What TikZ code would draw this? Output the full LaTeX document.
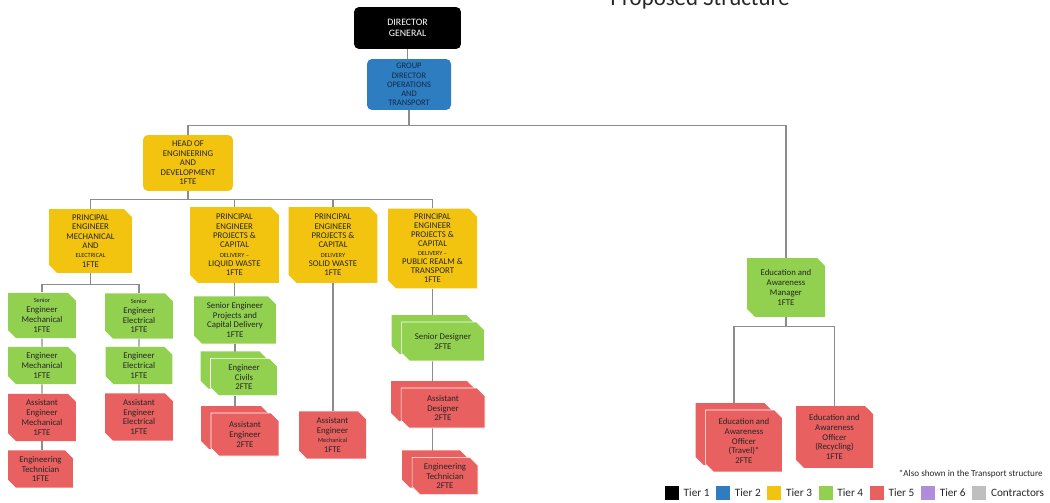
\documentclass[tikz,border=0pt]{standalone}
\usepackage{fontspec}
\setmainfont{Carlito}
\usetikzlibrary{shapes.misc, positioning, shadows, backgrounds}
\definecolor{tierone}{RGB}{0,0,0}
\definecolor{tiertwo}{RGB}{45,125,192}
\definecolor{tierthree}{RGB}{242,196,16}
\definecolor{tierfour}{RGB}{146,208,80}
\definecolor{tierfive}{RGB}{232,96,95}
\definecolor{tiersix}{RGB}{177,140,219}
\definecolor{contractor}{RGB}{191,191,191}
\definecolor{linegrey}{RGB}{140,140,140}
\definecolor{boxtext}{RGB}{38,38,38}
\newcommand{\squash}[1]{{\fontsize{3.6}{4.4}\selectfont #1}}
\tikzstyle{topbox} = [rectangle, rounded corners=1mm, align=center, inner sep=1pt, font=\fontsize{5}{5.4}\selectfont]
\tikzstyle{post} = [chamfered rectangle, chamfered rectangle corners={north east, south west}, chamfered rectangle xsep=0.8mm, chamfered rectangle ysep=0.8mm, align=center, inner sep=1pt, text=boxtext, font=\fontsize{5}{5.6}\selectfont]
\tikzstyle{principal} = [post, fill=tierthree, font=\fontsize{5}{5.3}\selectfont]
\tikzstyle{senior} = [post, fill=tierfour]
\tikzstyle{junior} = [post, fill=tierfive]
\tikzstyle{seniorstack} = [senior, draw=white, line width=0.3pt, general shadow={fill=tierfour, shadow xshift=-2mm, shadow yshift=1.4mm}]
\tikzstyle{juniorstack} = [junior, draw=white, line width=0.3pt, general shadow={fill=tierfive, shadow xshift=-2mm, shadow yshift=1.4mm}]
\tikzstyle{line} = [draw=linegrey, line width=0.75pt]
\tikzstyle{legsq} = [rectangle, minimum size=2.8mm, inner sep=0pt]
\tikzstyle{legtext} = [inner sep=0pt, font=\fontsize{6.4}{7}\selectfont, text=boxtext]

\begin{document}
\begin{tikzpicture}[x=0.02cm, y=-0.02cm]
    \useasboundingbox (0,0) rectangle (1050,503);

    \node (title) [anchor=base, font=\fontsize{13}{15}\selectfont, text=black!85] at (700,6) {Proposed Structure};

    \node (dg) [topbox, fill=tierone, text=white, minimum width=21.4mm, minimum height=8.4mm, font=\fontsize{5.6}{6.4}\selectfont] at (407.5,28) {DIRECTOR\\GENERAL};
    \node (gdot) [topbox, fill=tiertwo, text={rgb,255:red,25;green,40;blue,70}, minimum width=16.8mm, minimum height=10.2mm, font=\fontsize{4.8}{5.2}\selectfont] at (409,84.5) {GROUP\\DIRECTOR\\OPERATIONS\\AND\\TRANSPORT};
    \node (head) [topbox, fill=tierthree, text=boxtext, minimum width=18mm, minimum height=11.2mm] at (188,163) {HEAD OF\\ENGINEERING\\AND\\DEVELOPMENT\\1FTE};

    \node (pemech) [principal, minimum width=16.6mm, minimum height=12.4mm] at (90.5,241) {PRINCIPAL\\ENGINEER\\MECHANICAL\\AND\\\squash{ELECTRICAL}\\1FTE};
    \node (peliquid) [principal, minimum width=17.8mm, minimum height=15.2mm] at (234.5,245) {PRINCIPAL\\ENGINEER\\PROJECTS \&\\CAPITAL\\\squash{DELIVERY --}\\LIQUID WASTE\\1FTE};
    \node (pesolid) [principal, minimum width=17.8mm, minimum height=15.2mm] at (333,245) {PRINCIPAL\\ENGINEER\\PROJECTS \&\\CAPITAL\\\squash{DELIVERY}\\SOLID WASTE\\1FTE};
    \node (pepublic) [principal, minimum width=17.8mm, minimum height=15.4mm, font=\fontsize{5}{5.1}\selectfont] at (432.5,248.5) {PRINCIPAL\\ENGINEER\\PROJECTS \&\\CAPITAL\\\squash{DELIVERY --}\\PUBLIC REALM \&\\TRANSPORT\\1FTE};

    \node (sem) [senior, minimum width=13.6mm, minimum height=8.6mm] at (42,315.5) {\squash{Senior}\\Engineer\\Mechanical\\1FTE};
    \node (see) [senior, minimum width=13.6mm, minimum height=8.4mm] at (139,316) {\squash{Senior}\\Engineer\\Electrical\\1FTE};
    \node (em) [senior, minimum width=13.6mm, minimum height=6.6mm] at (42,365.5) {Engineer\\Mechanical\\1FTE};
    \node (ee) [senior, minimum width=13.4mm, minimum height=6.6mm] at (139,365.5) {Engineer\\Electrical\\1FTE};
    \node (aem) [junior, minimum width=13.6mm, minimum height=8.6mm] at (42,417.5) {Assistant\\Engineer\\Mechanical\\1FTE};
    \node (aee) [junior, minimum width=13.6mm, minimum height=8.8mm] at (139,417) {Assistant\\Engineer\\Electrical\\1FTE};
    \node (techmech) [junior, minimum width=13mm, minimum height=6mm] at (40.5,469) {Engineering\\Technician\\1FTE};

    \node (sepcd) [senior, minimum width=16.4mm, minimum height=8mm] at (235,320) {Senior Engineer\\Projects and\\Capital Delivery\\1FTE};
    \node (civils) [seniorstack, minimum width=13.4mm, minimum height=6.4mm] at (244,377) {Engineer\\Civils\\2FTE};
    \node (aeliquid) [juniorstack, minimum width=13.6mm, minimum height=8.6mm] at (245,434.5) {Assistant\\Engineer\\2FTE};

    \node (aesolid) [junior, minimum width=13.4mm, minimum height=8.8mm] at (332.5,435) {Assistant\\Engineer\\\squash{Mechanical}\\1FTE};

    \node (sdes) [seniorstack, minimum width=16.6mm, minimum height=7.8mm] at (443,341.5) {Senior Designer\\2FTE};
    \node (ades) [juniorstack, minimum width=16.8mm, minimum height=8mm] at (443,408) {Assistant\\Designer\\2FTE};
    \node (techpub) [juniorstack, minimum width=13.2mm, minimum height=5.2mm] at (445,476) {Engineering\\Technician\\2FTE};

    \node (eam) [senior, minimum width=15.6mm, minimum height=11.8mm] at (786,287.5) {Education and\\Awareness\\Manager\\1FTE};
    \node (eatravel) [juniorstack, minimum width=15.4mm, minimum height=12.4mm] at (744,441) {Education and\\Awareness\\Officer\\(Travel)*\\2FTE};
    \node (earecycle) [junior, minimum width=15.4mm, minimum height=12.4mm] at (834.5,437) {Education and\\Awareness\\Officer\\(Recycling)\\1FTE};

    \node (footnote) [anchor=east, inner sep=0pt, font=\fontsize{5.2}{6}\selectfont, text=boxtext] at (1043,474) {*Also shown in the Transport structure};

    \node (lgone) [legsq, fill=tierone] at (672,493) {};
    \node (lgonet) [legtext, right=0.8mm of lgone] {Tier 1};
    \node (lgtwo) [legsq, fill=tiertwo, right=1.2mm of lgonet] {};
    \node (lgtwot) [legtext, right=0.8mm of lgtwo] {Tier 2};
    \node (lgthree) [legsq, fill=tierthree, right=1.2mm of lgtwot] {};
    \node (lgthreet) [legtext, right=0.8mm of lgthree] {Tier 3};
    \node (lgfour) [legsq, fill=tierfour, right=1.2mm of lgthreet] {};
    \node (lgfourt) [legtext, right=0.8mm of lgfour] {Tier 4};
    \node (lgfive) [legsq, fill=tierfive, right=1.2mm of lgfourt] {};
    \node (lgfivet) [legtext, right=0.8mm of lgfive] {Tier 5};
    \node (lgsix) [legsq, fill=tiersix, right=1.2mm of lgfivet] {};
    \node (lgsixt) [legtext, right=0.8mm of lgsix] {Tier 6};
    \node (lgcon) [legsq, fill=contractor, right=1.2mm of lgsixt] {};
    \node (lgcont) [legtext, right=0.8mm of lgcon] {Contractors};

    \begin{scope}[on background layer]
    \draw [line] (dg.south) -- (dg.south |- gdot.north);
    \draw [line] (gdot.south) -- ++(0,15) -| (head.north);
    \draw [line] (gdot.south) -- ++(0,15) -| (eam.north);
    \draw [line] (head.south) -- ++(0,8) -| (pemech.north);
    \draw [line] (head.south) -- ++(0,8) -| (peliquid.north);
    \draw [line] (head.south) -- ++(0,8) -| (pesolid.north);
    \draw [line] (head.south) -- ++(0,8) -| (pepublic.north);
    \draw [line] (pemech.south) -- ++(0,11) -| (sem.north);
    \draw [line] (pemech.south) -- ++(0,11) -| (see.north);
    \draw [line] (sem) -- (em);
    \draw [line] (em) -- (aem);
    \draw [line] (aem.south) -- (aem.south |- techmech.north);
    \draw [line] (see) -- (ee);
    \draw [line] (ee) -- (aee);
    \draw [line] (peliquid.south) -- (peliquid.south |- sepcd.north);
    \draw [line] (sepcd.south) -- (sepcd.south |- civils.north);
    \draw [line] (sepcd.south |- civils.south) -- (sepcd.south |- aeliquid.north);
    \draw [line] (pesolid.south) -- (pesolid.south |- aesolid.north);
    \draw [line] (pepublic.south) -- (pepublic.south |- sdes.north);
    \draw [line] (pepublic.south |- sdes.south) -- (pepublic.south |- ades.north);
    \draw [line] (pepublic.south |- ades.south) -- (pepublic.south |- techpub.north);
    \draw [line] (eam.south) -- ++(0,9) -| ([xshift=-2mm]eatravel.north);
    \draw [line] (eam.south) -- ++(0,9) -| (earecycle.north);
    \end{scope}

\end{tikzpicture}
\end{document}
